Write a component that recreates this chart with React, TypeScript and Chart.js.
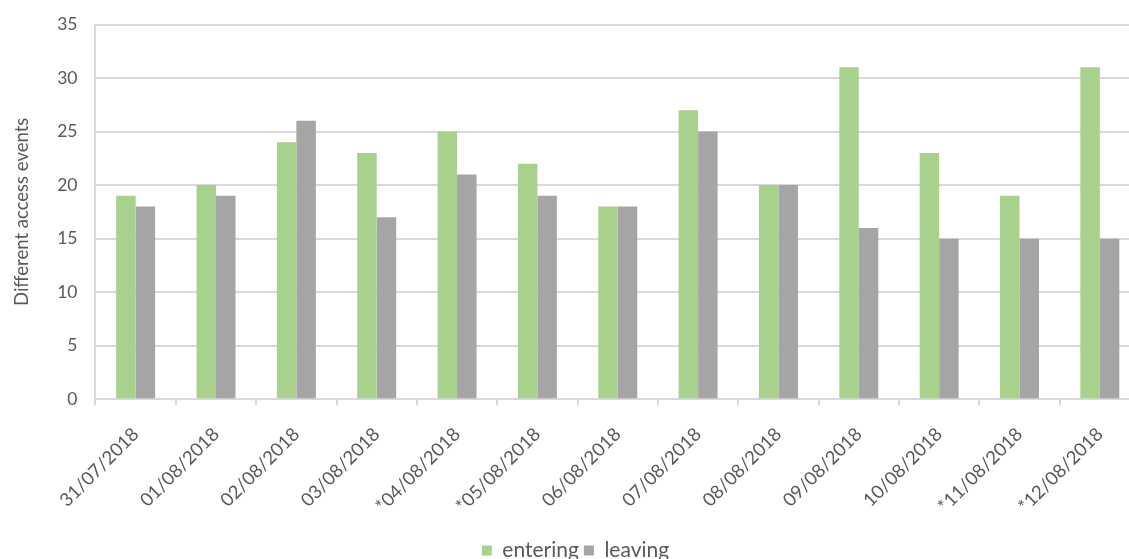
import React, { useEffect, useRef } from "react";
import { Chart, registerables } from "chart.js";

Chart.register(...registerables);

const categories = [
  "31/07/2018", "01/08/2018", "02/08/2018", "03/08/2018", "*04/08/2018",
  "*05/08/2018", "06/08/2018", "07/08/2018", "08/08/2018", "09/08/2018",
  "10/08/2018", "*11/08/2018", "*12/08/2018",
];
const entering = [19, 20, 24, 23, 25, 22, 18, 27, 20, 31, 23, 19, 31];
const leaving = [18, 19, 26, 17, 21, 19, 18, 25, 20, 16, 15, 15, 15];
const yTicks = [0, 5, 10, 15, 20, 25, 30, 35];

const FONT = "Lato, 'Open Sans', sans-serif";
const TEXT = "#595959";
const GRID = "#D9D9D9";

export default function App() {
  const ref = useRef<HTMLCanvasElement | null>(null);
  useEffect(() => {
    if (!ref.current) return;
    const chart = new Chart(ref.current, {
      type: "bar",
      data: {
        labels: categories,
        datasets: [
          { label: "entering", data: entering, backgroundColor: "#A9D18E", categoryPercentage: 0.485, barPercentage: 1 },
          { label: "leaving", data: leaving, backgroundColor: "#A5A5A5", categoryPercentage: 0.485, barPercentage: 1 },
        ],
      },
      options: {
        responsive: false,
        animation: false,
        maintainAspectRatio: false,
        layout: { padding: { top: 0, right: 10, left: 11, bottom: 0 } },
        plugins: {
          legend: {
            position: "bottom",
            labels: {
              boxWidth: 10, boxHeight: 10, color: TEXT, padding: 5,
              font: { family: FONT, size: 21 },
            },
          },
          tooltip: { enabled: false },
        },
        scales: {
          x: {
            grid: { display: true, drawOnChartArea: false, drawTicks: true, tickLength: 6, color: GRID, offset: true, lineWidth: 2 },
            border: { display: true, color: GRID, width: 2 },
            ticks: { color: TEXT, font: { family: FONT, size: 18.5 }, maxRotation: 45, minRotation: 45, padding: 18, autoSkip: false },
          },
          y: {
            min: 0, max: 35,
            afterBuildTicks: (axis: any) => { axis.ticks = yTicks.map((v) => ({ value: v })); },
            grid: { color: GRID, drawTicks: false, lineWidth: 2 },
            border: { display: true, color: GRID, width: 2 },
            ticks: { color: TEXT, font: { family: FONT, size: 17.5 }, padding: 18 },
            title: { display: true, text: "Different access events", color: TEXT, font: { family: FONT, size: 18.5 }, padding: { top: 0, bottom: 6 } },
          },
        },
      },
    });
    return () => chart.destroy();
  }, []);
  return (
    <div style={{ position: "fixed", left: 0, top: 0, width: 1129, height: 559, overflow: "hidden", background: "#fff" }}>
      <canvas ref={ref} width={1150} height={575} style={{ width: 1150, height: 575, display: "block", marginTop: -4 }} />
    </div>
  );
}
